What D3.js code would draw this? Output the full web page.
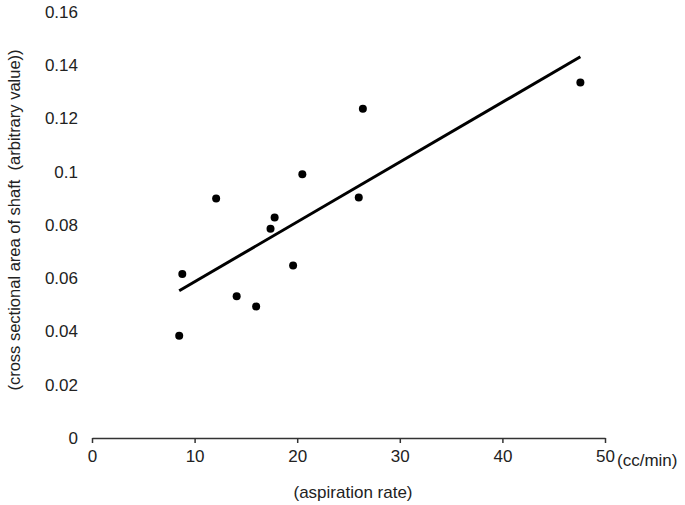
<!DOCTYPE html>
<html>
<head>
    <title></title>
    <meta charset="utf-8">
    <style>
        body { margin: 0; background: #fff; }
        text { font-family: 'Liberation Sans', Arial, sans-serif; fill: #222; }
    </style>
</head>
<body>
<script src="https://d3js.org/d3.v7.min.js"></script>
<script>
    // aspiration rate (cc/min) vs cross sectional area of shaft
    var rate = [8.5, 8.8, 12.1, 14.1, 16.0, 17.4, 17.8, 19.6, 20.5, 26.0, 26.4, 47.6];
    var area = [0.0384, 0.0616, 0.0900, 0.0532, 0.0494, 0.0786, 0.0828, 0.0648, 0.0991, 0.0903, 0.1237, 0.1335];
    var trendX = [8.5, 47.6];
    var trendY = [0.0553, 0.1432];
    var xTicks = [0, 10, 20, 30, 40, 50];
    var yTicks = [0, 0.02, 0.04, 0.06, 0.08, 0.1, 0.12, 0.14, 0.16];

    var width = 685, height = 505;

    var svg = d3.select('body').append('svg')
        .attr('width', width)
        .attr('height', height);

    var x = d3.scaleLinear().domain([0, 50]).range([92, 605]);
    var y = d3.scaleLinear().domain([0, 0.16]).range([438, 12]);

    // x axis
    var xAxis = svg.append('g')
        .attr('transform', 'translate(0,' + y(0) + ')')
        .call(d3.axisBottom(x).tickValues(xTicks).tickSize(5).tickSizeOuter(0).tickFormat(d3.format('d')));
    xAxis.select('.domain').attr('stroke', '#333').attr('stroke-width', 1.5);
    xAxis.selectAll('.tick line').attr('stroke', '#333').attr('stroke-width', 1.5).attr('y1', 0);
    xAxis.selectAll('.tick text')
        .attr('y', 12)
        .attr('font-size', 17)
        .attr('font-family', 'Liberation Sans, Arial, sans-serif')
        .attr('fill', '#222');

    // y axis labels only, no line
    var yAxis = svg.append('g')
        .attr('transform', 'translate(78,0)')
        .call(d3.axisLeft(y).tickValues(yTicks).tickSize(0).tickFormat(function (d) { return d === 0 ? '0' : String(+d.toFixed(2)); }));
    yAxis.select('.domain').remove();
    yAxis.selectAll('.tick text')
        .attr('x', 0)
        .attr('font-size', 17)
        .attr('font-family', 'Liberation Sans, Arial, sans-serif')
        .attr('fill', '#222');

    // axis titles
    svg.append('text')
        .attr('x', 617)
        .attr('y', 466)
        .attr('font-size', 17)
        .text('(cc/min)');

    svg.append('text')
        .attr('x', 353)
        .attr('y', 498)
        .attr('text-anchor', 'middle')
        .attr('font-size', 17)
        .text('(aspiration rate)');

    svg.append('text')
        .attr('transform', 'translate(20,220) rotate(-90)')
        .attr('text-anchor', 'middle')
        .attr('font-size', 16.5)
        .attr('xml:space', 'preserve')
        .style('white-space', 'pre')
        .text('(cross sectional area of shaft  (arbitrary value))');

    // trend line
    svg.append('line')
        .attr('x1', x(trendX[0]))
        .attr('y1', y(trendY[0]))
        .attr('x2', x(trendX[1]))
        .attr('y2', y(trendY[1]))
        .attr('stroke', '#000')
        .attr('stroke-width', 3);

    // points
    svg.selectAll('circle')
        .data(rate)
        .enter()
        .append('circle')
        .attr('cx', function (d) { return x(d); })
        .attr('cy', function (d, i) { return y(area[i]); })
        .attr('r', 4)
        .attr('fill', '#000');
</script>
</body>
</html>
